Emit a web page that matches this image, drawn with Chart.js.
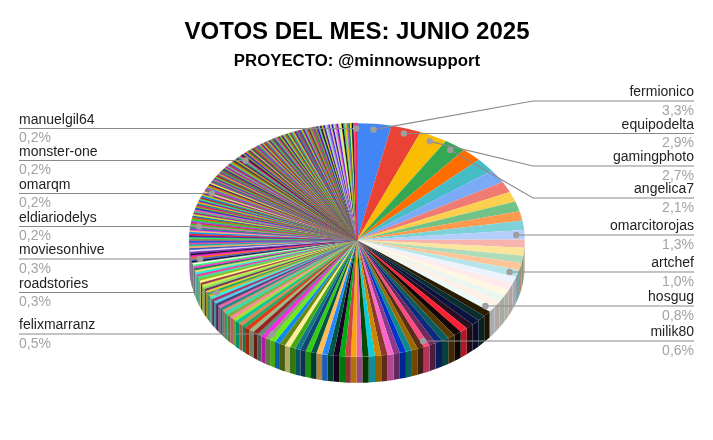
<!DOCTYPE html>
<html>
<head>
<meta charset="utf-8">
<title>VOTOS DEL MES: JUNIO 2025</title>
<script src="https://cdn.jsdelivr.net/npm/chart.js@4"></script>
<style>
  html, body { margin: 0; padding: 0; background: #fff; }
  canvas { display: block; }
</style>
</head>
<body>
<canvas id="votos-chart" width="713" height="440"></canvas>
<script>
// share of the votes per account, biggest first
var sliceValues = [
  3.3, 2.9, 2.7, 2.1,
  1.95, 1.95, 1.85, 1.5, 1.4, 1.4, 1.3, 1.3, 1.3,
  1.1, 1.1, 1.0, 1.0, 1.0,
  0.95, 0.95, 0.9, 0.9, 0.85, 0.8,
  0.8, 0.8, 0.8, 0.75, 0.75, 0.75, 0.7, 0.7, 0.7, 0.65, 0.6,
  0.6, 0.6, 0.6, 0.6, 0.6, 0.6, 0.6, 0.6, 0.6, 0.6,
  0.55, 0.55, 0.55, 0.55, 0.55, 0.55, 0.55, 0.55,
  0.53, 0.53, 0.53, 0.53, 0.53, 0.53, 0.53, 0.53, 0.53, 0.5,
  0.48, 0.48, 0.48, 0.48, 0.44, 0.44, 0.44, 0.44, 0.4, 0.4, 0.4, 0.4,
  0.36, 0.36, 0.36, 0.36, 0.36, 0.36, 0.36, 0.3,
  0.3, 0.3, 0.3, 0.3, 0.3, 0.3, 0.3, 0.3, 0.3, 0.3, 0.3, 0.3,
  0.26, 0.26, 0.26, 0.26, 0.26, 0.26,
  0.25, 0.25, 0.25, 0.25, 0.25, 0.25, 0.25, 0.25, 0.25, 0.25, 0.25, 0.25, 0.25,
  0.23, 0.23, 0.23, 0.23, 0.23, 0.24,
  0.22, 0.22, 0.22, 0.22, 0.22, 0.22, 0.22, 0.22, 0.22, 0.22, 0.22,
  0.22, 0.22, 0.22, 0.22, 0.22, 0.22, 0.22, 0.22, 0.22, 0.22, 0.2,
  0.19, 0.19, 0.19, 0.19, 0.19, 0.19, 0.19, 0.19, 0.19, 0.19,
  0.19, 0.19, 0.19, 0.19, 0.19, 0.19, 0.19, 0.19, 0.19, 0.19,
  0.19, 0.19, 0.19, 0.19, 0.19, 0.19, 0.19, 0.19, 0.19, 0.19, 0.18,
  0.18, 0.18, 0.18, 0.18, 0.18, 0.18, 0.18, 0.18, 0.18, 0.18,
  0.18, 0.18, 0.18, 0.18, 0.18, 0.18, 0.18, 0.18, 0.18, 0.18, 0.18,
  0.17, 0.17, 0.17, 0.17, 0.17, 0.17, 0.17, 0.17, 0.17, 0.17,
  0.17, 0.17, 0.17, 0.17, 0.17, 0.17, 0.17, 0.17, 0.17, 0.17,
  0.17, 0.17, 0.17, 0.17, 0.17, 0.17, 0.17, 0.17, 0.17, 0.17,
  0.16, 0.16, 0.16, 0.16, 0.16, 0.16, 0.16, 0.16, 0.16, 0.16,
  0.16, 0.16, 0.16, 0.16, 0.16, 0.16, 0.16, 0.16, 0.16, 0.16, 0.17
];

var sliceColors = [
  '#4285F4','#EA4335','#FBBC04','#34A853','#FF6D01','#46BDC6','#7BAAF7','#F07B72','#FCD04F','#71C287',
  '#FF994D','#7ED1D7','#B3CEFB','#F7B4AE','#FDE49B','#AEDCBA','#FFC599','#B5E5E8','#ECF3FE','#FDECEB',
  '#FFF7E1','#EBF6EE','#FFF0E6','#EDF8F9','#2A1B00','#0A2E2E','#0A1240','#2A0F20','#FF1F35','#150505',
  '#5A3A00','#0B5C5C','#0B2A80','#6E2A5C','#FF4A80','#5C2C18','#9A6A00','#0E8A8A','#0033CC','#8A3A8A',
  '#FF66CC','#8A3A2A','#CC8800','#11CCDD','#004D00','#DD66BB','#FFA010','#CC4444','#00AA11','#1A0022',
  '#005544','#2288FF','#FFBB55','#005544','#33CC11','#114477','#117788','#44AA11','#FFEE99','#668811',
  '#1188EE','#66EE11','#88AA66','#FF22EE','#668877','#992222','#99BB88','#EE3311','#22AA66','#DD8855',
  '#00CC99','#AADD33','#FF8899','#88AA44','#33DDAA','#CC9977','#228888','#EE66AA','#444477','#55CCEE',
  '#AA3366','#33EEEE','#DDAA22','#11AA66','#EECC33','#663366','#88DD66','#CCEE44','#993355','#FFFF88',
  '#88BB22','#44DD99','#FF3399','#22EEDD','#DDDD66','#117755','#FF33CC','#33FF77','#F0FFE0','#111133',
  '#4466CC','#FF6600','#FF22CC','#221144','#7733AA','#EEDDFF','#3355BB','#FFAA66','#11BBAA','#DD4499',
  '#2255EE','#AA7744','#22EE66','#5522AA','#FF2222','#0099FF','#FFBB66','#AA22EE','#119966','#EE66BB',
  '#33CC11','#FF1166','#7766DD','#22DD22','#EE5511','#1166BB','#CCEE22','#AA1199','#33CC77','#FF55AA',
  '#2233DD','#77BB00','#EE1177','#009999','#FFAA00','#6622CC','#22EE77','#CC2222','#0088EE','#BBCC00',
  '#881199','#FFCC99','#338844','#EE2288','#5566EE','#88BB22','#FF4411','#113377','#EEEE33','#9933BB',
  '#118855','#EE5588','#2244BB','#66CC11','#BB1133','#118899','#FF8811','#7722CC','#33AA33','#AA3344',
  '#114499','#99AA11','#BB11BB','#44CC99','#DD1144','#3366CC','#88CC22','#BB5511','#114455','#DDAA11',
  '#551199','#11AA44','#9098A8','#CC1166','#112233','#AA9922','#1133DD','#FF6633','#339911','#881188',
  '#BBBB44','#225577','#DD3311','#44AA44','#AA22CC','#119977','#FF7744','#443399','#99BB11','#BB2244',
  '#2288AA','#DD9911','#662299','#44BB55','#995533','#2244AA','#77AA66','#EE3377','#116633','#BBAA33',
  '#4411AA','#66DD44','#DD5522','#116688','#AAD011','#883366','#22AA88','#EEAA11','#5522BB','#448866',
  '#BB3366','#1155AA','#BBBB11','#7711AA','#44BB99','#EE5522','#334477','#88AA11','#DD3388','#118866',
  '#BB7722','#4411DD','#77CC88','#111133','#DDCC22','#3300CC','#99EE99','#CC88DD','#4433FF','#EECC99',
  '#3300AA','#AAEEBB','#FF66AA','#5511EE','#BBE8C8','#FFEE33','#000022','#44CC88','#FFBB00','#9966EE',
  '#008866','#FFEE00','#001133','#EE5599','#FF2255'
];

// the accounts that get a callout, and which slice each belongs to
var calloutNames = ['fermionico', 'equipodelta', 'gamingphoto', 'angelica7', 'omarcitorojas', 'artchef', 'hosgug', 'milik80',
  'felixmarranz', 'roadstories', 'moviesonhive', 'eldiariodelys', 'omarqm', 'monster-one', 'manuelgil64'];
var calloutSlices = [0, 1, 2, 3, 12, 17, 23, 34, 62, 82, 100, 119, 141, 172, 244];
var calloutLineY = [101, 133.5, 166, 198, 235, 272, 306, 341, 334, 292.5, 259, 226.5, 193.5, 160.5, 128.5];
var calloutKinkX = [533, null, 533, 533, null, null, null, null, null, null, null, null, null, null, null];

var labels = sliceValues.map(function(v, i) {
  var c = calloutSlices.indexOf(i);
  return c >= 0 ? calloutNames[c] : '';
});

var SQUASH = 0.696;
var DEPTH = 26;
var LABEL_LEFT = 19;
var LABEL_RIGHT = 694;
var THIN_FROM = 63; // from here on the slices are so thin that white bleeds through the edges

function darken(hex) {
  var n = parseInt(hex.slice(1), 16);
  var r = Math.round((n >> 16 & 255) * 0.7);
  var g = Math.round((n >> 8 & 255) * 0.7);
  var b = Math.round((n & 255) * 0.7);
  return 'rgb(' + r + ',' + g + ',' + b + ')';
}

var pie3d = {
  id: 'pie3d',
  beforeDatasetsDraw: function(chart) {
    var ctx = chart.ctx;
    var arcs = chart.getDatasetMeta(0).data;
    var cx = arcs[0].x, cy = arcs[0].y, r = arcs[0].outerRadius;

    // side wall, only the front half of the rim shows
    arcs.forEach(function(arc, i) {
      var start = Math.max(arc.startAngle, 0);
      var end = Math.min(arc.endAngle, Math.PI);
      if (end <= start) return;
      ctx.beginPath();
      ctx.ellipse(cx, cy, r, r * SQUASH, 0, start, end);
      ctx.ellipse(cx, cy + DEPTH, r, r * SQUASH, 0, end, start, true);
      ctx.closePath();
      ctx.fillStyle = darken(sliceColors[i]);
      ctx.fill();
    });

    // the library draws its arcs into a flattened canvas
    ctx.save();
    ctx.translate(cx, cy);
    ctx.scale(1, SQUASH);
    ctx.translate(-cx, -cy);
  },
  afterDatasetsDraw: function(chart) {
    var ctx = chart.ctx;
    ctx.restore();

    var arcs = chart.getDatasetMeta(0).data;
    var total = sliceValues.reduce(function(a, b) { return a + b; }, 0);

    calloutSlices.forEach(function(slice, c) {
      var arc = arcs[slice];
      var mid = (arc.startAngle + arc.endAngle) / 2;
      var dotX = arc.x + Math.cos(mid) * arc.outerRadius * 0.95;
      var dotY = arc.y + Math.sin(mid) * arc.outerRadius * 0.95 * SQUASH;
      var lineY = calloutLineY[c];
      var kink = calloutKinkX[c];
      var onRight = dotX > arc.x;
      if (kink === null) dotY = lineY;

      ctx.strokeStyle = '#8a8a8a';
      ctx.lineWidth = 1.2;
      ctx.beginPath();
      ctx.moveTo(dotX, dotY);
      if (kink !== null) ctx.lineTo(kink, lineY);
      ctx.lineTo(onRight ? LABEL_RIGHT : LABEL_LEFT, lineY);
      ctx.stroke();

      ctx.fillStyle = '#9e9e9e';
      ctx.beginPath();
      ctx.arc(dotX, dotY, 3.2, 0, Math.PI * 2);
      ctx.fill();

      var pct = (sliceValues[slice] / total * 100).toFixed(1).replace('.', ',') + '%';
      ctx.font = '14px "Liberation Sans", Arial, sans-serif';
      ctx.textAlign = onRight ? 'right' : 'left';
      ctx.textBaseline = 'middle';
      ctx.fillStyle = '#222222';
      ctx.fillText(calloutNames[c], onRight ? LABEL_RIGHT : LABEL_LEFT, lineY - 8.8);
      ctx.fillStyle = '#a3a3a3';
      ctx.fillText(pct, onRight ? LABEL_RIGHT : LABEL_LEFT, lineY + 10);
    });
  }
};

new Chart(document.getElementById('votos-chart'), {
  type: 'pie',
  data: {
    labels: labels,
    datasets: [{
      data: sliceValues,
      backgroundColor: sliceColors,
      borderColor: sliceColors,
      borderWidth: function(context) {
        return context.dataIndex >= THIN_FROM ? 0.6 : 0;
      },
      hoverOffset: 0,
      clip: false
    }]
  },
  options: {
    responsive: false,
    animation: false,
    layout: { padding: { left: 1, right: 0, top: 0, bottom: 32 } },
    plugins: {
      legend: { display: false },
      tooltip: { enabled: false },
      title: {
        display: true,
        text: 'VOTOS DEL MES: JUNIO 2025',
        color: '#000000',
        font: { family: '"Liberation Sans", Arial, sans-serif', size: 24, weight: 'bold' },
        padding: { top: 17.6, bottom: 0 }
      },
      subtitle: {
        display: true,
        text: 'PROYECTO: @minnowsupport',
        color: '#000000',
        font: { family: '"Liberation Sans", Arial, sans-serif', size: 16.8, weight: 'bold' },
        padding: { top: 5, bottom: 0.4 }
      }
    }
  },
  plugins: [pie3d]
});
</script>
</body>
</html>
